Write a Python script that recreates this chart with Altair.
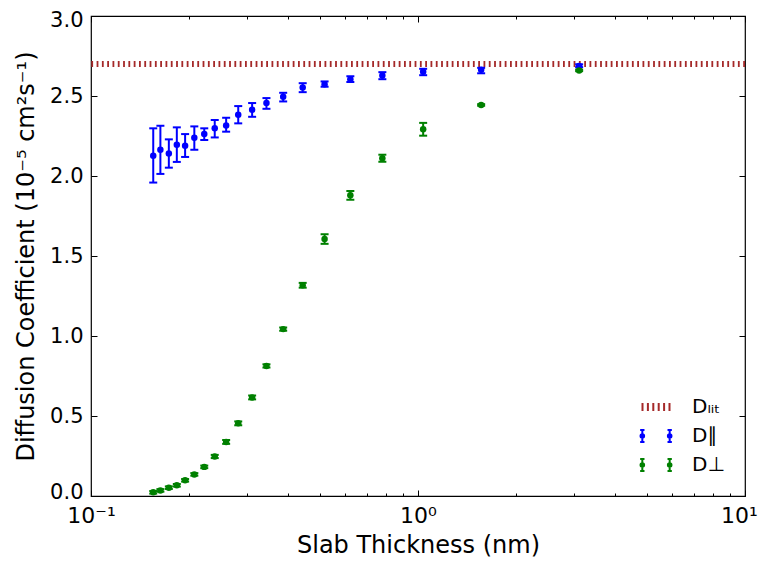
import altair as alt
import pandas as pd

# ---- data ----
thickness = [0.155, 0.163, 0.173, 0.183, 0.194, 0.207, 0.222, 0.239, 0.259, 0.282,
             0.311, 0.344, 0.387, 0.444, 0.518, 0.621, 0.778, 1.037, 1.56, 3.11]

d_par = [2.127, 2.164, 2.141, 2.196, 2.189, 2.239, 2.262, 2.298, 2.316, 2.383,
         2.414, 2.456, 2.495, 2.553, 2.574, 2.605, 2.628, 2.651, 2.664, 2.688]
d_par_lo = [1.959, 2.013, 2.052, 2.088, 2.119, 2.164, 2.225, 2.241, 2.277, 2.329,
            2.370, 2.420, 2.466, 2.524, 2.558, 2.587, 2.605, 2.630, 2.642, 2.680]
d_par_hi = [2.298, 2.314, 2.229, 2.304, 2.262, 2.310, 2.298, 2.350, 2.364, 2.437,
            2.456, 2.487, 2.520, 2.580, 2.591, 2.624, 2.649, 2.670, 2.676, 2.698]

d_perp = [0.023, 0.035, 0.052, 0.067, 0.098, 0.135, 0.182, 0.247, 0.338, 0.454,
          0.616, 0.813, 1.043, 1.317, 1.606, 1.879, 2.111, 2.292, 2.444, 2.660]
d_perp_err = [0.008, 0.008, 0.008, 0.008, 0.008, 0.008, 0.008, 0.010, 0.012, 0.012,
              0.012, 0.010, 0.010, 0.015, 0.030, 0.027, 0.022, 0.040, 0.005, 0.005]

d_lit = 2.70

series_names = ["D\u2097\u1d62\u209c", "D\u2225", "D\u22a5"]
series_colors = ["#a52a2a", "#0000ff", "#008000"]

x_major = [0.1, 1, 10]
x_minor = [0.2, 0.3, 0.4, 0.5, 0.6, 0.7, 0.8, 0.9,
           2, 3, 4, 5, 6, 7, 8, 9]
y_ticks = [0.0, 0.5, 1.0, 1.5, 2.0, 2.5, 3.0]

# ---- tables ----
df_par = pd.DataFrame({"x": thickness, "y": d_par, "lo": d_par_lo, "hi": d_par_hi})
df_perp = pd.DataFrame({"x": thickness, "y": d_perp,
                        "lo": [v - e for v, e in zip(d_perp, d_perp_err)],
                        "hi": [v + e for v, e in zip(d_perp, d_perp_err)]})
df_lit = pd.DataFrame({"y": [d_lit]})
df_leg = pd.DataFrame({"x": [0.05] * 3, "y": [5.0] * 3, "series": series_names})

FONT = "DejaVu Sans"
xscale = alt.Scale(type="log", domain=[0.1, 10], nice=False)
yscale = alt.Scale(domain=[0, 3], nice=False, zero=False)

err_path = ("M-0.76,-0.33L-0.76,0.33M-0.88,-0.33L-0.64,-0.33M-0.88,0.33L-0.64,0.33"
            "M0.76,-0.33L0.76,0.33M0.64,-0.33L0.88,-0.33M0.64,0.33L0.88,0.33"
            "M-0.86,0A0.1,0.1 0 1,0 -0.66,0A0.1,0.1 0 1,0 -0.86,0Z"
            "M0.66,0A0.1,0.1 0 1,0 0.86,0A0.1,0.1 0 1,0 0.66,0Z")
lit_path = ("M-0.75,-0.22L-0.75,0.22M-0.45,-0.22L-0.45,0.22M-0.15,-0.22L-0.15,0.22"
            "M0.15,-0.22L0.15,0.22M0.45,-0.22L0.45,0.22M0.75,-0.22L0.75,0.22")

cscale = alt.Scale(domain=series_names, range=series_colors)
sscale = alt.Scale(domain=series_names, range=[lit_path, err_path, err_path])

noax_x = alt.X("x:Q", scale=xscale, axis=None)

# ---- axis layers (ticks inward via negative offset) ----
label_expr = "datum.value == 0.1 ? '10\u207b\u00b9' : (datum.value == 1 ? '10\u2070' : '10\u00b9')"

ax_a = alt.Chart(df_par).mark_point(opacity=0).encode(
    x=alt.X("x:Q", scale=xscale, title="Slab Thickness (nm)",
            axis=alt.Axis(orient="bottom", values=x_major, labelExpr=label_expr,
                          offset=-6, tickSize=6, domain=False, grid=False,
                          labelPadding=9, labelFlush=False, titlePadding=7,
                          labelOffset={"condition": {"test": "datum.value == 10", "value": -6},
                                       "value": 0})),
    y=alt.Y("y:Q", scale=yscale, title="Diffusion Coefficient (10\u207b\u2075 cm\u00b2s\u207b\u00b9)",
            axis=alt.Axis(orient="left", values=y_ticks, format=".1f",
                          offset=-6, tickSize=6, domain=False, grid=False,
                          labelPadding=8, titlePadding=11, labelFontSize=21,
                          labelOffset={"condition": [
                              {"test": "datum.value == 3", "value": 4},
                              {"test": "datum.value == 0", "value": -4}],
                              "value": 0})),
)
ax_b = alt.Chart(df_par).mark_point(opacity=0).encode(
    x=alt.X("x:Q", scale=xscale,
            axis=alt.Axis(orient="bottom", values=x_minor, labels=False, title=None,
                          offset=-3, tickSize=3, domain=False, grid=False)),
    y=alt.Y("y:Q", scale=yscale,
            axis=alt.Axis(orient="right", values=y_ticks, labels=False, title=None,
                          offset=-6, tickSize=6, domain=False, grid=False)),
)
ax_c = alt.Chart(df_par).mark_point(opacity=0).encode(
    x=alt.X("x:Q", scale=xscale,
            axis=alt.Axis(orient="top", values=x_major, labels=False, title=None,
                          offset=-6, tickSize=6, domain=False, grid=False)),
    y=alt.Y("y:Q", scale=yscale, axis=None),
)
ax_d = alt.Chart(df_par).mark_point(opacity=0).encode(
    x=alt.X("x:Q", scale=xscale,
            axis=alt.Axis(orient="top", values=x_minor, labels=False, title=None,
                          offset=-3, tickSize=3, domain=False, grid=False)),
    y=alt.Y("y:Q", scale=yscale, axis=None),
)

# ---- data layers ----
lit = alt.Chart(df_lit).mark_rule(color=series_colors[0], strokeWidth=6,
                                  strokeDash=[1.8, 3.5]).encode(
    y=alt.Y("y:Q", scale=yscale, axis=None))


def series_layers(d, color):
    bars = alt.Chart(d).mark_rule(strokeWidth=2, color=color).encode(
        x=noax_x, y=alt.Y("lo:Q", scale=yscale, axis=None), y2="hi:Q")
    cap_lo = alt.Chart(d).mark_tick(orient="horizontal", size=8, thickness=2,
                                    color=color, opacity=1).encode(
        x=noax_x, y=alt.Y("lo:Q", scale=yscale, axis=None))
    cap_hi = alt.Chart(d).mark_tick(orient="horizontal", size=8, thickness=2,
                                    color=color, opacity=1).encode(
        x=noax_x, y=alt.Y("hi:Q", scale=yscale, axis=None))
    pts = alt.Chart(d).mark_circle(size=42, opacity=1, color=color).encode(
        x=noax_x, y=alt.Y("y:Q", scale=yscale, axis=None))
    return [bars, cap_lo, cap_hi, pts]


leg = alt.Legend(title=None, orient="none", legendX=546, legendY=372,
                 labelFontSize=20, labelFont=FONT, labelColor="black",
                 symbolSize=1296, symbolStrokeWidth=2, labelOffset=17,
                 rowPadding=-5, padding=0)

legend_layer = alt.Chart(df_leg).mark_point(filled=False, clip=True, strokeWidth=2,
                                            opacity=1).encode(
    x=noax_x, y=alt.Y("y:Q", scale=yscale, axis=None),
    color=alt.Color("series:N", scale=cscale, legend=leg),
    shape=alt.Shape("series:N", scale=sscale, legend=leg),
)

chart = alt.layer(
    ax_a, ax_b, ax_c, ax_d, lit,
    *series_layers(df_par, series_colors[1]),
    *series_layers(df_perp, series_colors[2]),
    legend_layer
).resolve_axis(x="independent", y="independent").properties(
    width=654, height=480, background="white",
    autosize=alt.AutoSizeParams(type="none"),
    padding={"left": 83, "top": 8, "right": 13, "bottom": 61}
).configure_view(stroke="black", strokeWidth=1.2).configure_axis(
    labelFont=FONT, titleFont=FONT, labelFontSize=22, titleFontSize=24,
    titleFontWeight="normal", labelColor="black", titleColor="black",
    tickColor="black", tickWidth=1
)

chart.save("out.html", embed_options={"renderer": "svg", "actions": False})
